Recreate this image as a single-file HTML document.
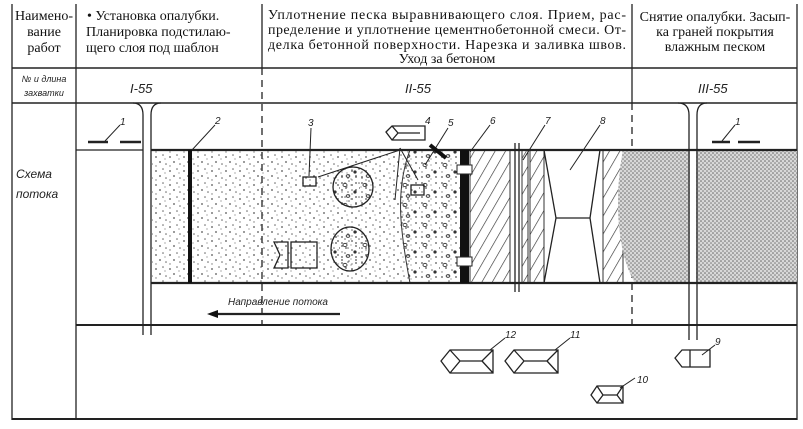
<!DOCTYPE html>
<html><head><meta charset="utf-8"><style>
html,body{margin:0;padding:0;background:#fff;}
svg{display:block;}
.h{font-family:"Liberation Serif","Noto Serif CJK SC",serif;font-size:14px;fill:#111;}
.i{font-family:"Liberation Sans","DejaVu Sans",sans-serif;font-style:italic;fill:#222;}
</style></head><body>
<svg width="803" height="429" viewBox="0 0 803 429" xmlns="http://www.w3.org/2000/svg">
<defs>
<pattern id="sand" width="14" height="14" patternUnits="userSpaceOnUse">
<circle cx="2" cy="3" r="0.9" fill="#555"/><circle cx="9" cy="1" r="0.8" fill="#666"/><circle cx="6" cy="8" r="0.9" fill="#555"/><circle cx="12" cy="10" r="0.8" fill="#666"/><circle cx="2" cy="12" r="0.7" fill="#777"/><circle cx="11" cy="5" r="0.6" fill="#777"/>
</pattern>
<pattern id="dense" width="4" height="4" patternUnits="userSpaceOnUse">
<rect width="4" height="4" fill="#d8d8d8"/><circle cx="1" cy="1" r="0.8" fill="#666"/><circle cx="3" cy="3" r="0.8" fill="#777"/>
</pattern>
<pattern id="conc" width="20" height="20" patternUnits="userSpaceOnUse">
<rect width="20" height="20" fill="url(#sand)"/>
<ellipse cx="5" cy="5" rx="2" ry="1.6" fill="none" stroke="#444" stroke-width="1"/><circle cx="15" cy="12" r="1.6" fill="#333"/><ellipse cx="8" cy="16" rx="1.8" ry="1.4" fill="none" stroke="#444"/>
</pattern>
<pattern id="hatch" width="9" height="9" patternUnits="userSpaceOnUse" patternTransform="rotate(30)">
<line x1="0" y1="0" x2="0" y2="9" stroke="#333" stroke-width="1.3"/>
</pattern>
</defs>
<g stroke="#222" fill="none" stroke-width="1.3">
<line x1="12" y1="4" x2="12" y2="420"/>
<line x1="76" y1="4" x2="76" y2="420"/>
<line x1="797" y1="4" x2="797" y2="420"/>
<line x1="262" y1="4" x2="262" y2="68"/>
<line x1="632" y1="4" x2="632" y2="103"/>
<line x1="12" y1="68" x2="797" y2="68" stroke-width="1.6"/>
<line x1="12" y1="103" x2="797" y2="103" stroke-width="1.6"/>
<line x1="12" y1="419" x2="797" y2="419" stroke-width="2"/>
<line x1="262" y1="68" x2="262" y2="325" stroke-dasharray="7,5"/>
<line x1="632" y1="103" x2="632" y2="325" stroke-dasharray="7,5"/>
</g>
<rect x="152" y="150" width="258" height="133" fill="url(#sand)"/>
<path d="M410 150 C395 190 400 230 410 283 L462 283 L462 150 Z" fill="url(#conc)" stroke="#333"/>
<rect x="470" y="150" width="40" height="133" fill="url(#hatch)" stroke="#333"/>
<rect x="522" y="150" width="6" height="133" fill="url(#hatch)" stroke="#333"/>
<rect x="530" y="150" width="14" height="133" fill="url(#hatch)" stroke="#333"/>
<rect x="603" y="150" width="20" height="133" fill="url(#hatch)" stroke="#333"/>
<path d="M623 150 C615 190 615 250 635 283 L797 283 L797 150 Z" fill="url(#dense)"/>
<rect x="690" y="150" width="6" height="133" fill="#fff"/>
<ellipse cx="353" cy="187" rx="20" ry="20" fill="url(#conc)"/>
<ellipse cx="350" cy="249" rx="19" ry="22" fill="url(#conc)"/>
<g stroke="#222" fill="none" stroke-width="1.3">
<path d="M544 150 L556 218 L544 283 M600 150 L590 218 L600 283 M556 218 L590 218"/>
<line x1="515" y1="143" x2="515" y2="292"/><line x1="519" y1="143" x2="519" y2="292"/>
<line x1="76" y1="150" x2="143" y2="150"/>
<line x1="151" y1="150" x2="797" y2="150" stroke-width="2.2"/>
<line x1="151" y1="283" x2="797" y2="283" stroke-width="2.2"/>
<line x1="76" y1="325" x2="797" y2="325" stroke-width="2"/>
<path d="M133 103 Q143 103 143 115 L143 335 M161 103 Q151 103 151 115 L151 335"/>
<path d="M678 103 Q689 103 689 115 L689 340 M707 103 Q697 103 697 115 L697 340"/>
<line x1="88" y1="142" x2="108" y2="142" stroke-width="2.5"/><line x1="120" y1="142" x2="141" y2="142" stroke-width="2.5"/>
<line x1="712" y1="142" x2="730" y2="142" stroke-width="2.5"/><line x1="738" y1="142" x2="760" y2="142" stroke-width="2.5"/>
<line x1="105" y1="141" x2="120" y2="125" stroke-width="1"/>
<line x1="722" y1="141" x2="735" y2="125" stroke-width="1"/>
<line x1="192" y1="150" x2="215" y2="125" stroke-width="1"/>
<line x1="309" y1="176" x2="311" y2="128" stroke-width="1"/>
<line x1="470" y1="152" x2="490" y2="125" stroke-width="1"/>
<line x1="523" y1="160" x2="545" y2="125" stroke-width="1"/>
<line x1="570" y1="170" x2="600" y2="125" stroke-width="1"/>
<line x1="425" y1="165" x2="448" y2="128" stroke-width="1"/>
<line x1="318" y1="177" x2="400" y2="150" stroke-width="1"/>
<path d="M400 148 L395 200 M400 148 L418 180" stroke-width="1"/>
<ellipse cx="353" cy="187" rx="20" ry="20"/>
<ellipse cx="350" cy="249" rx="19" ry="22"/>
<rect x="303" y="177" width="13" height="9"/>
<rect x="411" y="185" width="13" height="10"/>
<path d="M274 242 L288 242 L288 268 L274 268 L280 255 Z"/><rect x="291" y="242" width="26" height="26"/>
<path d="M386 132 L392 126 L425 126 L425 140 L392 140 Z M392 126 L398 133 L392 140 M398 133 L420 133"/>
<line x1="215" y1="314" x2="340" y2="314" stroke-width="2.2"/>
<path d="M441 361 L450 350 L493 350 L493 373 L450 373 Z M450 350 L460 361 L450 373 M460 361 L482 361 L493 350 M482 361 L493 373"/>
<path d="M505 361 L514 350 L558 350 L558 373 L514 373 Z M514 350 L524 361 L514 373 M524 361 L547 361 L558 350 M547 361 L558 373"/>
<path d="M591 395 L597 386 L623 386 L623 403 L597 403 Z M597 386 L603 395 L597 403 M603 395 L617 395 L623 386 M617 395 L623 403"/>
<path d="M675 358 L682 350 L710 350 L710 367 L682 367 Z M690 350 L690 367"/>
<line x1="490" y1="350" x2="505" y2="338" stroke-width="1"/>
<line x1="555" y1="350" x2="570" y2="338" stroke-width="1"/>
<line x1="620" y1="388" x2="635" y2="378" stroke-width="1"/>
<line x1="702" y1="355" x2="715" y2="345" stroke-width="1"/>
</g>
<rect x="460" y="150" width="9" height="133" fill="#111"/>
<rect x="188" y="150" width="4" height="133" fill="#111"/>
<rect x="457" y="165" width="15" height="9" fill="#fff" stroke="#222"/>
<rect x="457" y="257" width="15" height="9" fill="#fff" stroke="#222"/>
<path d="M430 145 L446 158" stroke="#111" stroke-width="4"/>
<polygon points="207,314 218,310 218,318" fill="#111"/>
<text class="h" text-anchor="middle" x="44" y="20">Наимено-</text>
<text class="h" text-anchor="middle" x="44" y="36">вание</text>
<text class="h" text-anchor="middle" x="44" y="52">работ</text>
<text class="h" x="87" y="20">• Установка опалубки.</text>
<text class="h" x="86" y="36">Планировка  подстилаю-</text>
<text class="h" x="86" y="52">щего слоя  под шаблон</text>
<text class="h" x="268" y="19" textLength="358">Уплотнение песка выравнивающего слоя. Прием, рас-</text>
<text class="h" x="268" y="34" textLength="358">пределение и уплотнение цементнобетонной смеси. От-</text>
<text class="h" x="268" y="49" textLength="358">делка бетонной поверхности. Нарезка и заливка швов.</text>
<text class="h" text-anchor="middle" x="447" y="63">Уход за бетоном</text>
<text class="h" text-anchor="middle" x="715" y="21">Снятие опалубки. Засып-</text>
<text class="h" text-anchor="middle" x="715" y="36">ка граней покрытия</text>
<text class="h" text-anchor="middle" x="715" y="51">влажным песком</text>
<text class="i" font-size="9" text-anchor="middle" x="44" y="82">№ и длина</text>
<text class="i" font-size="9" text-anchor="middle" x="44" y="96">захватки</text>
<text class="i" font-size="13" x="130" y="93">I-55</text>
<text class="i" font-size="13" x="405" y="93">II-55</text>
<text class="i" font-size="13" x="698" y="93">III-55</text>
<text class="i" font-size="12" x="16" y="178">Схема</text>
<text class="i" font-size="12" x="16" y="198">потока</text>
<text class="i" font-size="10" x="228" y="305">Направление потока</text>
<g class="i" font-size="10">
<text x="120" y="125">1</text><text x="735" y="125">1</text><text x="215" y="124">2</text><text x="308" y="126">3</text>
<text x="425" y="124">4</text><text x="448" y="126">5</text><text x="490" y="124">6</text><text x="545" y="124">7</text><text x="600" y="124">8</text>
<text x="715" y="345">9</text><text x="637" y="383">10</text><text x="570" y="338">11</text><text x="505" y="338">12</text>
</g>
</svg>
</body></html>
